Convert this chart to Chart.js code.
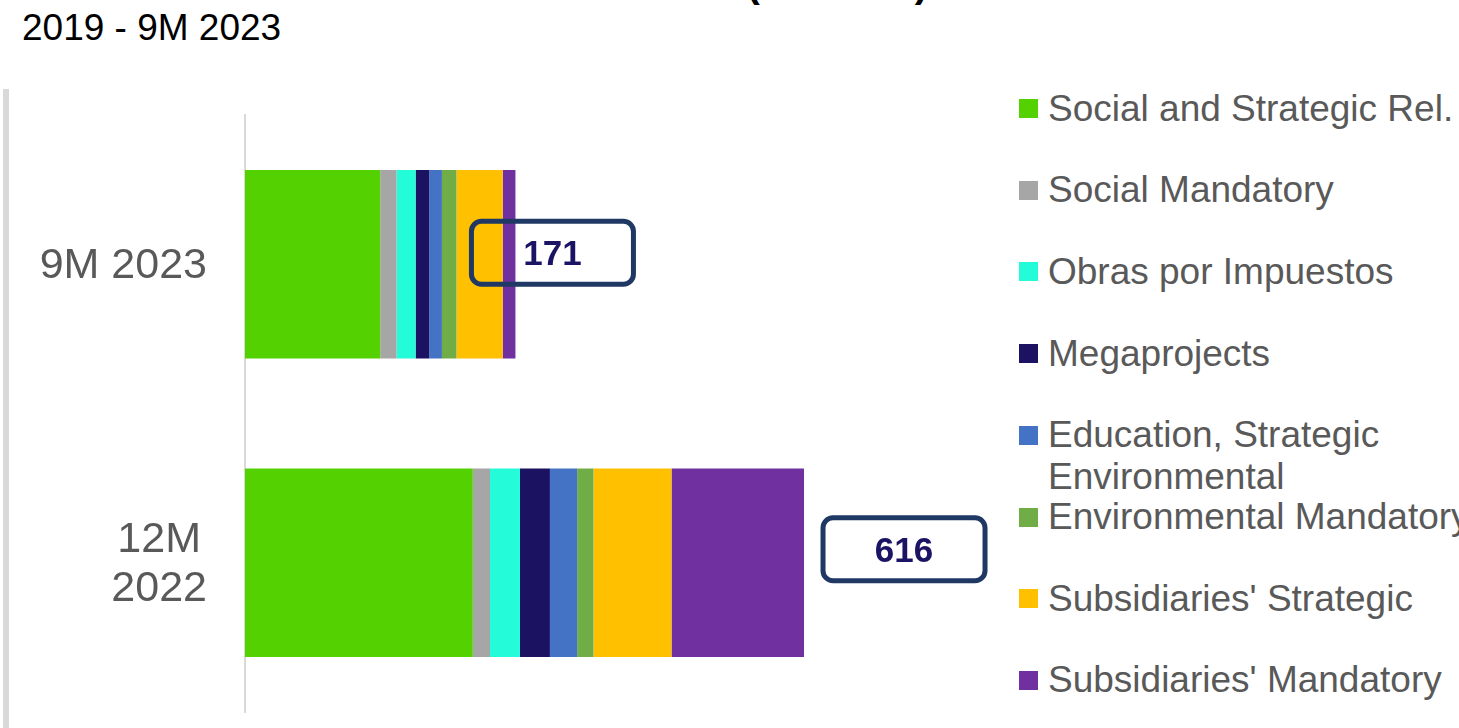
<!DOCTYPE html>
<html>
<head>
<meta charset="utf-8">
<script src="https://cdn.jsdelivr.net/npm/chart.js@4/dist/chart.umd.min.js"></script>
<style>
  html, body { margin: 0; padding: 0; background: #fff; overflow: hidden; }
  body { width: 1459px; height: 728px; position: relative; font-family: "Liberation Sans", Arial, sans-serif; }
  #chart { position: absolute; left: 0; top: 0; }
  .title { position: absolute; left: 0; top: -37px; width: 928px; text-align: right; font-weight: bold; font-size: 40px; line-height: 40px; color: #000; white-space: nowrap; }
  .subtitle { position: absolute; left: 22px; top: 8px; font-size: 37px; line-height: 40px; color: #000; }
  .sidebar { position: absolute; left: 3px; top: 89px; width: 6px; height: 639px; background: #d9d9d9; }
  .legend-item { position: absolute; left: 1048px; font-size: 37px; line-height: 42px; color: #595959; white-space: nowrap; }
  .legend-box { position: absolute; left: 1019px; width: 19px; height: 19px; }
</style>
</head>
<body>
<div class="title">Social Investment (COP BN)</div>
<div class="subtitle">2019 - 9M 2023</div>
<div class="sidebar"></div>
<div id="legend"></div>
<canvas id="chart" width="1459" height="728"></canvas>
<script>
// categories (top to bottom)
var periods = [['9M 2023'], ['12M', '2022']];
var totals = [171, 616];

// series, in stack order (left to right)
var seriesNames = ['Social and Strategic Rel.', 'Social Mandatory', 'Obras por Impuestos', 'Megaprojects',
    'Education, Strategic\nEnvironmental', 'Environmental Mandatory', "Subsidiaries' Strategic", "Subsidiaries' Mandatory"];
var seriesColors = ['#54D100', '#A6A6A6', '#24FCD9', '#1B1262', '#4472C4', '#70AD47', '#FFC000', '#7030A0'];

// segment lengths as drawn, per series: [9M 2023, 12M 2022]
var socialStrategic = [149, 251];
var socialMandatory = [18, 19];
var obrasImpuestos = [21, 33];
var megaprojects = [15, 33];
var educationEnv = [14, 30];
var envMandatory = [16, 18];
var subsStrategic = [51, 86];
var subsMandatory = [14, 146];
var seriesValues = [socialStrategic, socialMandatory, obrasImpuestos, megaprojects,
    educationEnv, envMandatory, subsStrategic, subsMandatory];

// legend (html)
var legendHtml = '';
for (var i = 0; i < seriesNames.length; i++) {
    var rowTop = 108.5 + 81.7 * i - 21;
    legendHtml += '<div class="legend-box" style="top:' + (rowTop + 11.5) + 'px;background:' + seriesColors[i] + '"></div>';
    legendHtml += '<div class="legend-item" style="top:' + rowTop + 'px">' + seriesNames[i].replace('\n', '<br>') + '</div>';
}
document.getElementById('legend').innerHTML = legendHtml;

// category labels: lines centred within a right-aligned block
var categoryLabels = {
    id: 'categoryLabels',
    afterDraw: function (chart) {
        var ctx = chart.ctx;
        var yScale = chart.scales.y;
        var right = chart.chartArea.left - 38;
        ctx.save();
        ctx.font = '43px "Liberation Sans", Arial, sans-serif';
        ctx.fillStyle = '#595959';
        ctx.textAlign = 'center';
        ctx.textBaseline = 'middle';
        periods.forEach(function (lines, idx) {
            var w = 0;
            lines.forEach(function (l) { w = Math.max(w, ctx.measureText(l).width); });
            var cx = right - w / 2;
            var cy = yScale.getPixelForValue(idx) + 2;
            var lh = 49;
            var y0 = cy - (lines.length - 1) * lh / 2;
            lines.forEach(function (l, k) { ctx.fillText(l, cx, y0 + k * lh); });
        });
        ctx.restore();
    }
};

// total boxes placed next to each stacked bar
var totalBoxes = {
    id: 'totalBoxes',
    afterDraw: function (chart, args, opts) {
        var ctx = chart.ctx;
        var meta = chart.getDatasetMeta(seriesValues.length - 1);
        ctx.save();
        meta.data.forEach(function (bar, idx) {
            var cx = bar.x + opts.offsets[idx][0];
            var cy = bar.y + opts.offsets[idx][1];
            ctx.beginPath();
            ctx.roundRect(cx - 81, cy - 31.5, 162, 63, 10);
            ctx.lineWidth = 5;
            ctx.strokeStyle = '#203864';
            ctx.stroke();
            ctx.font = 'bold 35px "Liberation Sans", Arial, sans-serif';
            ctx.fillStyle = '#1B1464';
            ctx.textAlign = 'center';
            ctx.textBaseline = 'middle';
            ctx.fillText(String(totals[idx]), cx, cy + 3);
        });
        ctx.restore();
    }
};

var datasets = [];
seriesValues.forEach(function (vals, i) {
    datasets.push({
        label: seriesNames[i],
        data: vals,
        backgroundColor: seriesColors[i],
        borderWidth: 0,
        barPercentage: 0.632,
        categoryPercentage: 1
    });
});

var chart = new Chart(document.getElementById('chart').getContext('2d'), {
    type: 'bar',
    data: { labels: periods, datasets: datasets },
    options: {
        indexAxis: 'y',
        responsive: false,
        animation: false,
        devicePixelRatio: 1,
        layout: { padding: { left: 0, top: 115, right: 488, bottom: 16 } },
        scales: {
            x: { stacked: true, min: 0, max: 800, display: false },
            y: {
                stacked: true,
                grid: { display: false },
                border: { display: true, color: '#d9d9d9', width: 2 },
                ticks: { display: false },
                afterFit: function (s) { s.width = 245; }
            }
        },
        plugins: {
            legend: { display: false },
            tooltip: { enabled: false },
            totalBoxes: { offsets: [[37, -11.5], [100, -13.5]] }
        }
    },
    plugins: [categoryLabels, totalBoxes]
});
</script>
</body>
</html>
